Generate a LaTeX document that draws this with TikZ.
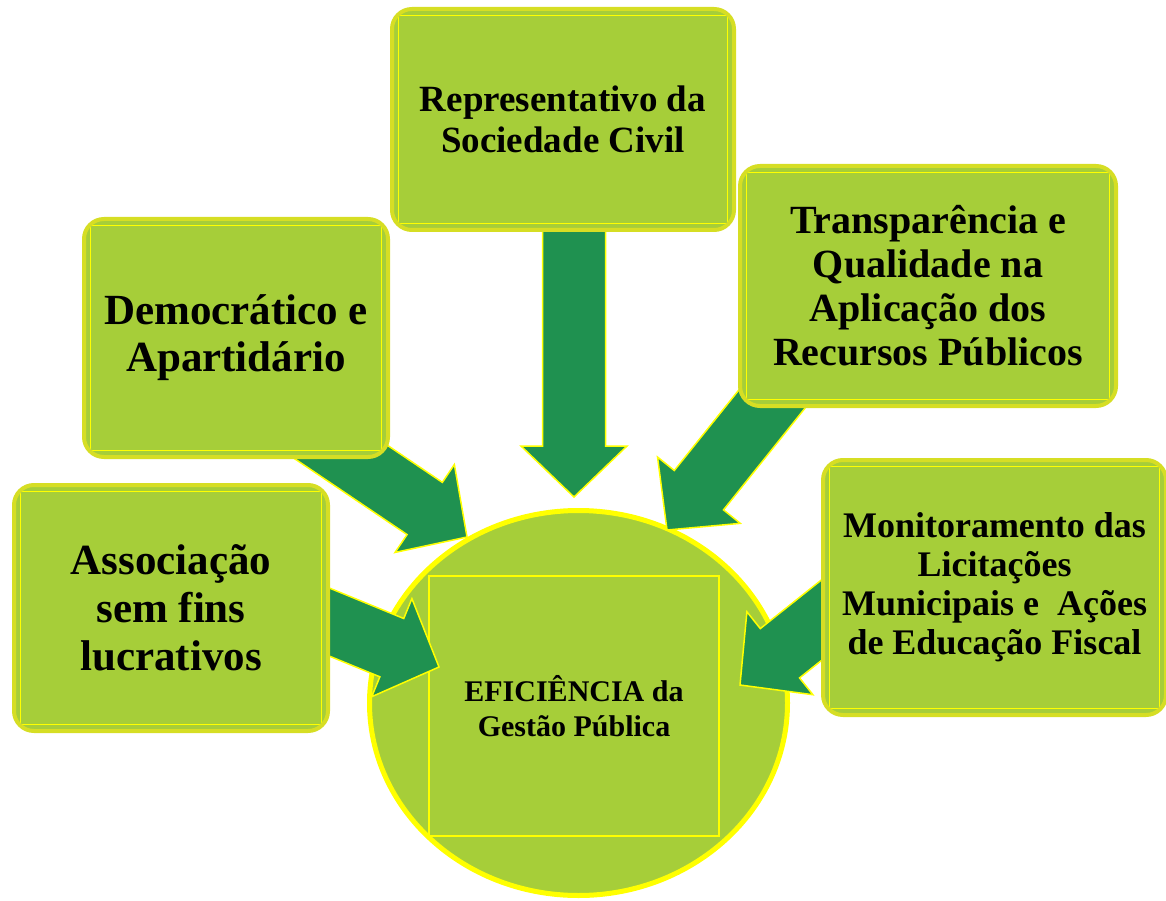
\documentclass[tikz,border=0pt]{standalone}
\usepackage{fontspec}
\setmainfont{Liberation Serif}
\usetikzlibrary{calc,shapes.geometric,backgrounds}
\definecolor{boxgreen}{RGB}{166,206,57}
\definecolor{boxrim}{RGB}{214,222,36}
\definecolor{arrowgreen}{RGB}{31,145,80}
\definecolor{rimyellow}{RGB}{255,255,0}
\newcommand{\boxfont}[2]{\fontsize{#1pt}{#2pt}\selectfont\bfseries}
\tikzset{
    block/.style = {draw=boxrim, line width=4pt, fill=boxgreen,
        rounded corners=20pt, align=center, inner sep=0pt,
        path picture={\draw[rimyellow, line width=1.5pt, sharp corners]
            ([shift={(6.5pt,-6.5pt)}]path picture bounding box.north west) rectangle
            ([shift={(-6.5pt,6.5pt)}]path picture bounding box.south east);}},
    goal/.style = {ellipse, draw=rimyellow, fill=boxgreen, line width=5pt,
        minimum width=418pt, minimum height=385pt, inner sep=0pt},
    inner/.style = {draw=rimyellow, line width=1.5pt, align=center,
        minimum width=290pt, minimum height=260pt},
    fatarrow/.style = {fill=arrowgreen, draw=rimyellow, line width=1.5pt, line join=miter}
}
\newcommand{\bigarrow}[2]{%
    \coordinate (hb) at ($(#2)!51pt!(#1)$);
    \draw[fatarrow] ($(#1)!31.5pt!90:(#2)$) -- ($(hb)!31.5pt!90:(#2)$) -- ($(hb)!53pt!90:(#2)$)
        -- (#2) -- ($(hb)!53pt!-90:(#2)$) -- ($(hb)!31.5pt!-90:(#2)$) -- ($(#1)!31.5pt!-90:(#2)$) -- cycle;}
\begin{document}
\begin{tikzpicture}[x=1pt, y=-1pt]
    \useasboundingbox (0,0) rectangle (1166,901);
    \node [block, minimum width=342pt, minimum height=221pt, font=\boxfont{37}{41}] (rep) at (563,119.5) {Representativo da\\Sociedade Civil};
    \node [block, minimum width=304pt, minimum height=238pt, font=\boxfont{43}{47}] (demo) at (236,338) {Democrático e\\Apartidário};
    \node [block, minimum width=314pt, minimum height=246pt, font=\boxfont{43}{48}] (assoc) at (171,608) {Associação\\sem fins\\lucrativos};
    \node [block, minimum width=376pt, minimum height=240pt, font=\boxfont{40}{44}] (transp) at (928,286) {Transparência e\\Qualidade na\\Aplicação dos\\Recursos Públicos};
    \node [block, minimum width=343pt, minimum height=255pt, font=\boxfont{36}{39}] (monit) at (994.5,587.5) {Monitoramento das\\Licitações\\Municipais e~ Ações\\de Educação Fiscal};
    \begin{scope}[on background layer]
        \node [goal] (gestao) at (578.5,703) {};
        \node [inner, font=\boxfont{30}{35}] (efic) at (574,706) {EFICIÊNCIA da\\Gestão Pública};
        \coordinate (rep-out) at ([xshift=11pt,yshift=20pt]rep.south);
        \coordinate (demo-out) at ([xshift=65pt,yshift=-87pt]demo.center);
        \coordinate (assoc-out) at ([xshift=85pt,yshift=16pt]assoc.center);
        \coordinate (transp-out) at ([xshift=-136pt,yshift=-88pt]transp.center);
        \coordinate (monit-out) at ([xshift=-137pt,yshift=-4pt]monit.center);
        \coordinate (rep-in) at (574,497);
        \coordinate (demo-in) at (467,537);
        \coordinate (assoc-in) at (439,667);
        \coordinate (transp-in) at (667,530);
        \coordinate (monit-in) at (740,685);
        \foreach \a in {rep,demo,assoc,transp,monit}
            \bigarrow{\a-out}{\a-in};
    \end{scope}
\end{tikzpicture}
\end{document}
